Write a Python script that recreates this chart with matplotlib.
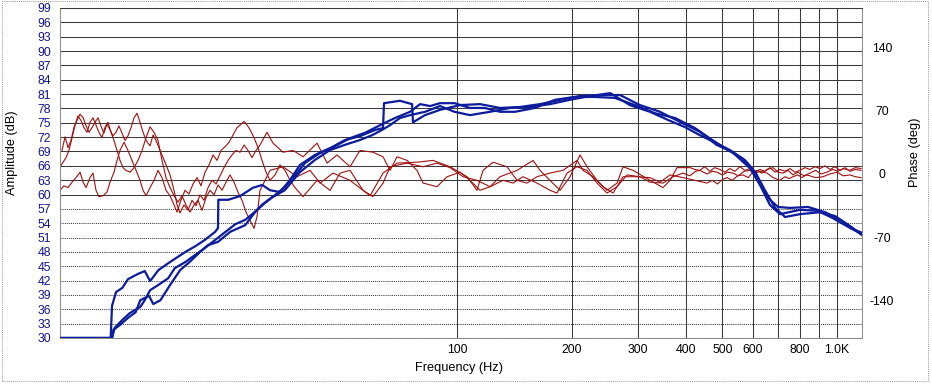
import matplotlib
matplotlib.use('Agg')
import matplotlib.pyplot as plt
from matplotlib.ticker import NullLocator
from matplotlib.patches import Rectangle

plt.rcParams['font.family'] = ['Liberation Sans', 'DejaVu Sans']
plt.rcParams['axes.unicode_minus'] = False

# amplitude traces (Hz, dB) - three measurements
amp1_hz = [8.97, 12.2, 12.3, 12.6, 13.1, 13.55, 14.4, 15.0, 15.5, 16.3, 17.5, 19.2, 20.4, 21.6, 23.0, 23.4,
           23.45, 24.9, 26.8, 28.9, 30.6, 32.1, 34.1, 36.2, 38.5, 42.2, 46.2, 50.6, 55.4, 60.7, 63.7, 64.1,
           70.6, 76.0, 76.4, 82.2, 90.0, 101.7, 114.8, 129.6, 146.3, 165.2, 186.5, 210.6, 237.8, 268.5,
           303, 342, 386, 436, 482, 530, 591, 628, 667, 709, 801, 890, 975, 1085, 1166]
amp1_db = [30, 30, 36.7, 39.6, 40.5, 42.3, 43.4, 44.0, 41.9, 44.2, 45.9, 48.0, 49.2, 50.5, 52.2, 53.0,
           58.9, 58.9, 59.7, 61.4, 62.0, 60.9, 60.5, 63.0, 66.2, 68.3, 69.7, 71.4, 72.2, 73.5, 73.9, 79.1,
           79.6, 78.9, 75.1, 76.6, 77.7, 78.7, 78.9, 78.1, 78.3, 78.9, 79.8, 80.6, 80.8, 80.8,
           78.7, 77.3, 75.2, 73.1, 70.4, 68.9, 65.5, 62.0, 57.8, 55.9, 56.8, 56.6, 55.1, 53.0, 51.7]

amp2_hz = [8.97, 12.3, 12.4, 12.9, 13.55, 14.2, 14.6, 15.4, 15.8, 16.5, 17.5, 18.6, 19.7, 21.0, 22.0, 23.4,
           25.2, 27.6, 29.3, 30.5, 32.3, 35.1, 38.5, 42.1, 46.2, 50.6, 55.4, 59.6, 63.3, 66.5, 70.6, 75.1,
           82.3, 90.0, 98.3, 108, 122, 137.7, 155.5, 175.5, 198, 224, 253, 285, 322, 359, 398, 436, 477,
           523, 573, 610, 647, 688, 731, 801, 904, 990, 1085, 1166]
amp2_db = [30, 30, 31.7, 32.7, 34.2, 35.4, 37.9, 38.8, 37.1, 37.9, 41.1, 44.2, 45.9, 48.0, 49.4, 50.1,
           52.2, 53.6, 56.3, 57.8, 59.3, 60.9, 64.7, 67.2, 69.3, 70.4, 71.4, 72.4, 73.5, 74.5, 76.0, 76.6,
           77.3, 78.5, 77.3, 76.6, 77.3, 78.1, 78.3, 78.9, 79.8, 80.6, 81.2, 78.7, 77.3, 75.6, 74.1, 72.4, 70.9,
           69.3, 67.2, 64.7, 60.9, 57.2, 55.3, 55.9, 56.3, 55.5, 53.4, 51.5]

amp3_hz = [8.97, 12.3, 12.5, 13.1, 13.7, 14.6, 15.0, 15.5, 16.3, 17.3, 18.0, 19.2, 20.4, 21.6, 23.0, 24.5,
           26.0, 27.6, 28.8, 31.1, 33.1, 35.1, 37.4, 39.7, 43.5, 47.6, 52.2, 57.1, 62.6, 68.5, 75.1, 79.8,
           84.8, 90.0, 98.3, 108, 118, 129.6, 142, 160, 181, 204, 231, 260, 294, 332, 375, 423, 470, 517,
           563, 598, 635, 667, 700, 753, 840, 932, 1021, 1118, 1166]
amp3_db = [30, 30, 32.1, 33.8, 35.2, 36.5, 37.9, 40.0, 41.1, 42.5, 44.6, 45.9, 47.4, 48.8, 50.5, 52.2,
           53.8, 54.7, 55.9, 58.2, 59.9, 61.6, 64.1, 66.6, 68.7, 70.1, 71.8, 72.9, 74.5, 76.0, 77.3, 78.9,
           78.5, 79.1, 79.1, 78.1, 78.1, 77.3, 77.3, 78.1, 79.8, 80.4, 80.4, 80.2, 78.7, 77.0, 76.0, 73.9, 71.4, 69.3,
           67.6, 65.1, 61.4, 58.9, 57.4, 57.2, 57.4, 56.3, 54.7, 52.6, 52.0]

# phase traces (Hz, deg)
ph1_hz = [9.08, 9.25, 9.42, 9.59, 9.76, 9.94, 10.13, 10.32, 10.51, 10.70,
          10.89, 11.09, 11.30, 11.50, 11.71, 11.93, 12.15, 12.37, 12.60, 12.83,
          13.07, 13.31, 13.55, 13.80, 14.06, 14.32, 14.58, 14.85, 15.12, 15.49,
          15.78, 16.06, 16.46, 16.97, 17.49, 17.92, 18.25, 18.58, 19.04, 19.51,
          19.99, 20.48, 20.98, 21.50, 22.03, 22.57, 23.13, 23.69, 24.27, 24.87,
          25.48, 26.10, 26.75, 27.41, 28.08, 28.77, 29.47, 30.20, 31.51, 32.68,
          34.73, 36.90, 39.21, 42.69, 45.36, 48.19, 52.15, 55.41, 59.96, 63.72,
          66.48, 69.37, 73.71, 78.32, 81.23, 88.43, 93.96, 101.7, 108.0, 114.8,
          122.0, 129.6, 143.7, 158.4, 165.2, 175.5, 186.5, 198.2, 210.6, 219.7,
          233.5, 248.1, 263.7, 273.4, 290.6, 322.1, 348.6, 363.7, 379.5, 410.6,
          423, 436, 449, 463, 477, 492, 507, 523, 539, 556,
          573, 591, 609, 628, 647, 667, 688, 709, 731, 753,
          776, 800, 825, 850, 877, 904, 932, 960, 990, 1021,
          1052, 1085, 1118, 1159]
ph1_deg = [26, 41, 29, 37, 51, 59, 66, 62, 53, 46,
           51, 57, 62, 53, 45, 55, 49, 42, 46, 53,
           45, 37, 42, 51, 62, 67, 57, 46, 37, 31,
           43, 37, 26, 13, -1, -18, -34, -43, -34, -40,
           -29, -35, -23, -29, -15, -7, -11, -2, 7, 15,
           21, 26, 24, 32, 26, 18, 26, 32, 46, 34,
           24, 26, 19, 34, 12, 21, 8, 26, 24, 19,
           4, 19, 15, 4, -10, -14, -3, 2, -7, -18,
           -14, -3, 4, 15, 4, -7, -18, -3, 21, 8,
           -7, -18, -10, 8, 4, -7, -15, -7, 7, 7,
           5, 4, 8, 3, 7, 5, 2, 6, 3, 8,
           4, 6, 2, 5, 3, 7, 2, 5, 3, 6,
           2, 4, 7, 5, 8, 6, 9, 5, 8, 4,
           7, 3, 5, 4]

ph2_hz = [8.97, 9.14, 9.30, 9.47, 9.65, 9.82, 10.00, 10.19, 10.38, 10.57,
          10.76, 10.96, 11.16, 11.36, 11.57, 11.78, 12.00, 12.22, 12.45, 12.68,
          12.91, 13.15, 13.39, 13.72, 14.06, 14.40, 14.76, 15.12, 15.49, 15.87,
          16.26, 16.66, 17.07, 17.49, 17.92, 18.36, 18.81, 19.27, 19.75, 20.24,
          20.73, 21.24, 21.76, 22.30, 22.85, 23.41, 23.98, 24.57, 25.17, 25.79,
          26.42, 27.08, 27.74, 28.42, 29.12, 29.65, 30.20, 32.09, 34.73, 37.80,
          40.91, 43.47, 47.04, 52.15, 56.43, 58.88, 63.72, 69.37, 78.32, 86.31,
          95.69, 106.1, 112.7, 116.9, 124.2, 135.2, 143.7, 152.7, 162.2, 175.5,
          189.9, 206.8, 214.5, 227.9, 242.2, 257.4, 273.4, 297.7, 322.1, 342.3,
          363.7, 393.6, 455, 470, 485, 500, 514, 530, 548, 566,
          585, 600, 617, 635, 655, 680, 700, 722, 745, 767,
          790, 820, 850, 880, 910, 943, 975, 1010, 1040, 1080,
          1120, 1159]
ph2_deg = [8, 13, 18, 26, 40, 53, 64, 59, 51, 46,
           57, 62, 54, 46, 40, 51, 57, 46, 37, 26,
           15, 7, 4, 2, 7, 15, 26, 40, 52, 46,
           37, 15, -4, -15, -24, -31, -24, -34, -42, -34,
           -29, -40, -26, -18, -23, -12, -18, -9, -1, -9,
           -20, -29, -42, -51, -60, -47, -18, 4, 8, -3,
           4, -10, 1, -7, -18, -24, 1, 12, 13, 15,
           8, -3, -18, 4, 13, 8, -7, -10, -3, 1,
           4, 15, 4, -3, -14, -21, -3, -3, -4, -9,
           -1, -4, -10, -7, -11, -6, -4, -7, -2, -1,
           -4, 2, 4, 1, 5, 7, 2, 1, 4, -1,
           2, -2, 1, 4, 0, 2, 5, 3, 6, 4,
           7, 6]

ph3_hz = [8.97, 9.19, 9.42, 9.65, 9.88, 10.13, 10.32, 10.51, 10.76, 10.96,
          11.16, 11.36, 11.64, 11.93, 12.15, 12.45, 12.68, 12.91, 13.23, 13.55,
          13.89, 14.23, 14.58, 14.85, 15.12, 15.49, 15.87, 16.26, 16.66, 17.07,
          17.49, 17.92, 18.25, 18.69, 19.15, 19.62, 20.11, 20.61, 21.11, 21.63,
          22.16, 22.71, 23.27, 23.83, 24.42, 25.02, 25.63, 26.26, 26.91, 27.41,
          27.91, 28.42, 29.12, 29.84, 30.57, 31.32, 32.09, 33.08, 34.10, 35.15,
          36.23, 37.35, 39.21, 42.69, 46.19, 49.08, 52.15, 56.43, 59.96, 63.72,
          66.48, 73.71, 81.23, 88.43, 95.69, 103.6, 112.7, 122.0, 132.0, 140.2,
          149.0, 162.2, 175.5, 183.1, 194.6, 206.8, 219.7, 233.5, 248.1, 263.7,
          280.2, 303.1, 322.1, 348.6, 370.4, 393.6, 410, 425, 436, 455,
          470, 484, 500, 515, 533, 550, 570, 591, 610, 630,
          655, 680, 709, 730, 750, 767, 790, 810, 830, 850,
          880, 920, 960, 1002, 1040, 1084, 1120, 1159]
ph3_deg = [-18, -13, -15, -9, -4, 2, -9, -15, -4, 1,
           -18, -25, -24, -20, -9, 2, 15, 26, 35, 26,
           15, 4, -7, -18, -24, -15, -7, 4, -4, -18,
           -24, -34, -42, -29, -18, -22, -11, -4, -13, 2,
           10, 21, 15, 26, 30, 35, 43, 51, 55, 58,
           54, 49, 40, 29, 15, 2, -7, -1, 10, 4,
           -7, -15, -25, -7, -18, 1, 4, -18, -25, -10,
           8, 12, 8, 12, 7, -3, -7, -14, -7, -10,
           -3, -10, -18, -21, 1, 8, 4, -10, -21, -14,
           -1, -3, -9, -10, -3, 1, -2, 3, 4, 0,
           3, 2, -1, 2, 1, -2, 3, 4, 1, 3,
           1, -4, -7, -3, -5, -3, -1, -4, -1, -2,
           -4, -3, 0, 2, -2, -1, -3, -4]

amp_ticks = list(range(30, 100, 3))
phase_ticks = [140, 70, 0, -70, -140]
freq_ticks = [100, 200, 300, 400, 500, 600, 700, 800, 900, 1000]
freq_labels = ['100', '200', '300', '400', '500', '600', '', '800', '', '1.0K']

BLUE = '#0c1c9c'
RED = '#a01010'
GRID = '#3a3a3a'
FRAME = '#8c8c8c'

fig = plt.figure(figsize=(9.32, 3.86), dpi=100)
ax = fig.add_axes([60 / 932, 48 / 386, 802 / 932, 330 / 386])
ax2 = ax.twinx()

ax.set_xscale('log')

# horizontal grid: solid above 60 dB, dotted below
for lvl in amp_ticks:
    if lvl >= 60:
        ax.axhline(lvl, color=GRID, lw=0.75, zorder=1)
    else:
        ax.axhline(lvl, color=GRID, lw=0.75, ls=(0, (1, 1)), zorder=1)

ax.set_xticks(freq_ticks, freq_labels)
ax.xaxis.set_minor_locator(NullLocator())
ax.grid(axis='x', color=GRID, lw=0.75)
ax.set_axisbelow(True)

for hz, deg in [(ph1_hz, ph1_deg), (ph2_hz, ph2_deg), (ph3_hz, ph3_deg)]:
    ax2.plot(hz, deg, color=RED, lw=0.8, zorder=2)

# amplitude drawn in dB units but on top of the phase traces
for hz, db in [(amp1_hz, amp1_db), (amp2_hz, amp2_db), (amp3_hz, amp3_db)]:
    ax2.plot(hz, db, color=BLUE, lw=1.6, transform=ax.transData, zorder=3)

ax.set_xlim(8.97, 1166)
ax.set_ylim(30, 99)
ax2.set_ylim(-180.8, 183.0)

ax.set_yticks(amp_ticks)
ax.tick_params(axis='y', length=0, pad=6.5, labelsize=8.8, labelcolor='#14148c')
ax.tick_params(axis='x', length=0, pad=4.5, labelsize=8.8)
ax2.set_yticks(phase_ticks)
ax2.tick_params(axis='y', length=0, pad=14.5, labelsize=8.8)
for lab in ax2.get_yticklabels():
    lab.set_horizontalalignment('center')

for s in ax.spines.values():
    s.set_visible(False)
for name in ['left', 'right', 'bottom']:
    ax2.spines[name].set_color(FRAME)
    ax2.spines[name].set_linestyle((0, (1, 1)))
    ax2.spines[name].set_linewidth(0.75)
ax2.spines['top'].set_color(GRID)
ax2.spines['top'].set_linewidth(0.75)

fig.text(12 / 932, 1 - 153 / 386, 'Amplitude (dB)', rotation=90, ha='center', va='center', fontsize=9.2)
fig.text(915 / 932, 1 - 152 / 386, 'Phase (deg)', rotation=90, ha='center', va='center', fontsize=9.2)
fig.text(459 / 932, 1 - 368 / 386, 'Frequency (Hz)', ha='center', va='center', fontsize=9.2)

fig.patches.append(Rectangle((2 / 932, 5 / 386), 926 / 932, 380 / 386, fill=False, ec='#a0a0a0',
                             lw=0.75, ls=(0, (1, 1)), transform=fig.transFigure))

fig.savefig('out.png', dpi=100)
